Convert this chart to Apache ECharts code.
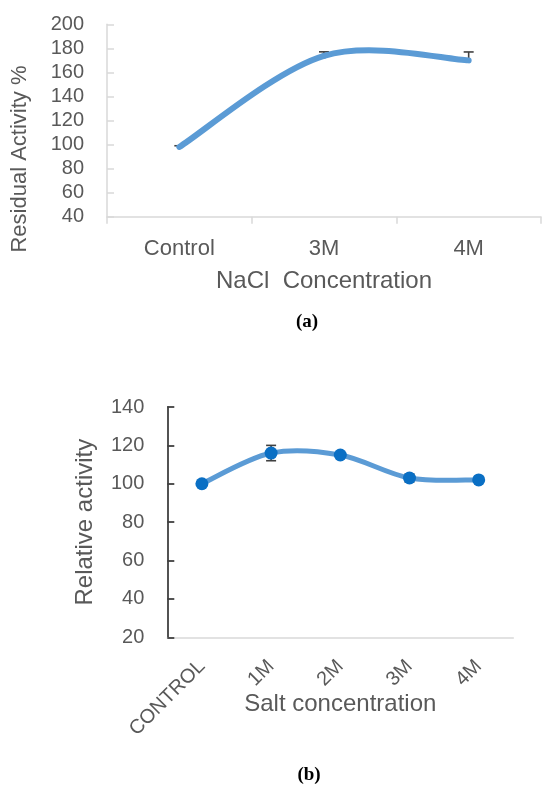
<!DOCTYPE html>
<html><head><meta charset="utf-8">
<script src="https://cdn.jsdelivr.net/npm/echarts@6/dist/echarts.min.js"></script>
<style>html,body{margin:0;padding:0;background:#fff;} #c{width:542px;height:785px;}</style>
</head><body><div id="c"></div>
<script>
// Chart (a)
const catsA = ['Control', '3M', '4M'];
const valsA = [98, 173.8, 170];
const errA = [1, 3.3, 7];          // plus-direction error
const yMinA = 40, yMaxA = 200, yStepA = 20;
// Chart (b)
const catsB = ['CONTROL', '1M', '2M', '3M', '4M'];
const valsB = [100, 116, 115, 103, 102];
const errB = [1, 4, 1, 2, 1];      // both directions
const yMinB = 20, yMaxB = 140, yStepB = 20;

const FONT = 'Liberation Sans';
const TXT = '#595959';
const LIGHT = '#d9d9d9';
const DARK = '#404040';
const LINE = '#5b9bd5';

const ptsA = valsA.map((v, i) => [i, v]);
const ptsB = valsB.map((v, i) => [i, v]);
const errDataA = valsA.map((v, i) => [i, v, v + errA[i], 0]);
const errDataB = valsB.map((v, i) => [i, v - errB[i], v + errB[i], 1]);

function errItem(params, api) {
  const x = api.value(0), lo = api.value(1), hi = api.value(2), both = api.value(3);
  const pLo = api.coord([x, lo]), pHi = api.coord([x, hi]);
  const w = 5;
  const style = { stroke: DARK, lineWidth: 1.6, fill: 'none' };
  const children = [
    { type: 'line', shape: { x1: pLo[0], y1: pLo[1], x2: pHi[0], y2: pHi[1] }, style },
    { type: 'line', shape: { x1: pHi[0] - w, y1: pHi[1], x2: pHi[0] + w, y2: pHi[1] }, style }
  ];
  if (both) children.push({ type: 'line', shape: { x1: pLo[0] - w, y1: pLo[1], x2: pLo[0] + w, y2: pLo[1] }, style });
  return { type: 'group', children };
}

// Spreadsheet-style smoothed segment between consecutive data points
function curveMaker(width) {
  return function (params, api) {
    const i = params.dataIndexInside, n = params.dataInsideLength;
    if (i >= n - 1) return null;
    const P = k => {
      const kk = Math.max(0, Math.min(n - 1, k));
      return api.coord([api.value(0, kk), api.value(1, kk)]);
    };
    const p0 = P(i - 1), p1 = P(i), p2 = P(i + 1), p3 = P(i + 2);
    const t = 1 / 6;
    return {
      type: 'bezierCurve',
      shape: {
        x1: p1[0], y1: p1[1], x2: p2[0], y2: p2[1],
        cpx1: p1[0] + (p2[0] - p0[0]) * t, cpy1: p1[1] + (p2[1] - p0[1]) * t,
        cpx2: p2[0] - (p3[0] - p1[0]) * t, cpy2: p2[1] - (p3[1] - p1[1]) * t
      },
      style: { stroke: LINE, lineWidth: width, fill: 'none', lineCap: 'round' }
    };
  };
}

const chart = echarts.init(document.getElementById('c'), null, { renderer: 'canvas' });
chart.setOption({
  animation: false,
  backgroundColor: '#fff',
  textStyle: { fontFamily: FONT },
  grid: [
    { left: 107, top: 24.3, width: 434, height: 192.4 },
    { left: 167.3, top: 407, width: 346, height: 230.3 }
  ],
  xAxis: [
    {
      gridIndex: 0, type: 'category', data: catsA, boundaryGap: true,
      axisLine: { lineStyle: { color: LIGHT, width: 1.5 } },
      axisTick: { show: true, length: 7, lineStyle: { color: LIGHT, width: 1.5 } },
      axisLabel: { fontSize: 22, color: TXT, margin: 21, fontFamily: FONT },
      name: 'NaCl  Concentration', nameLocation: 'middle', nameGap: 53, nameMoveOverlap: false,
      nameTextStyle: { fontSize: 24, color: TXT, fontFamily: FONT }
    },
    {
      gridIndex: 1, type: 'category', data: catsB, boundaryGap: true,
      axisLine: { lineStyle: { color: LIGHT, width: 1.5 } },
      axisTick: { show: false },
      axisLabel: { fontSize: 20, color: TXT, margin: 26, rotate: 45, interval: 0, fontFamily: FONT },
      name: 'Salt concentration', nameLocation: 'middle', nameGap: 55, nameMoveOverlap: false,
      nameTextStyle: { fontSize: 24, color: TXT, fontFamily: FONT }
    }
  ],
  yAxis: [
    {
      gridIndex: 0, type: 'value', min: yMinA, max: yMaxA, interval: yStepA,
      axisLine: { show: true, lineStyle: { color: LIGHT, width: 1.5 } },
      axisTick: { show: true, inside: true, length: 7, lineStyle: { color: LIGHT, width: 1.5 } },
      splitLine: { show: false },
      axisLabel: { fontSize: 20, color: TXT, margin: 23, fontFamily: FONT }
    },
    {
      gridIndex: 1, type: 'value', min: yMinB, max: yMaxB, interval: yStepB,
      axisLine: { show: true, lineStyle: { color: DARK, width: 1.8 } },
      axisTick: { show: true, inside: true, length: 7, lineStyle: { color: DARK, width: 1.8 } },
      splitLine: { show: false },
      axisLabel: { fontSize: 20, color: TXT, margin: 23, fontFamily: FONT },
      name: 'Relative activity', nameLocation: 'middle', nameGap: 70, nameMoveOverlap: false,
      nameTextStyle: { fontSize: 24, color: TXT, fontFamily: FONT }
    }
  ],
  series: [
    {
      type: 'custom', xAxisIndex: 0, yAxisIndex: 0, data: errDataA, renderItem: errItem, z: 1,
      encode: { x: 0, y: [1, 2] }
    },
    {
      type: 'custom', xAxisIndex: 0, yAxisIndex: 0, data: ptsA, renderItem: curveMaker(6), z: 3,
      encode: { x: 0, y: 1 }
    },
    {
      type: 'custom', xAxisIndex: 1, yAxisIndex: 1, data: errDataB, renderItem: errItem, z: 1,
      encode: { x: 0, y: [1, 2] }
    },
    {
      type: 'custom', xAxisIndex: 1, yAxisIndex: 1, data: ptsB, renderItem: curveMaker(5), z: 3,
      encode: { x: 0, y: 1 }
    },
    {
      type: 'scatter', xAxisIndex: 1, yAxisIndex: 1, data: ptsB, z: 4,
      symbol: 'circle', symbolSize: 13,
      itemStyle: { color: '#0a6fc4', borderWidth: 0, opacity: 1 }
    }
  ],
  graphic: [
    {
      type: 'text', x: 20, y: 159, rotation: Math.PI / 2,
      style: { text: 'Residual Activity %', fill: TXT, font: '22px "Liberation Sans"', align: 'center', verticalAlign: 'middle' }
    },
    {
      type: 'text', x: 307, y: 322,
      style: { text: '(a)', fill: '#000', font: 'bold 19px "Liberation Serif"', align: 'center', verticalAlign: 'middle' }
    },
    {
      type: 'text', x: 309, y: 775,
      style: { text: '(b)', fill: '#000', font: 'bold 19px "Liberation Serif"', align: 'center', verticalAlign: 'middle' }
    }
  ]
});
</script>
</body></html>
